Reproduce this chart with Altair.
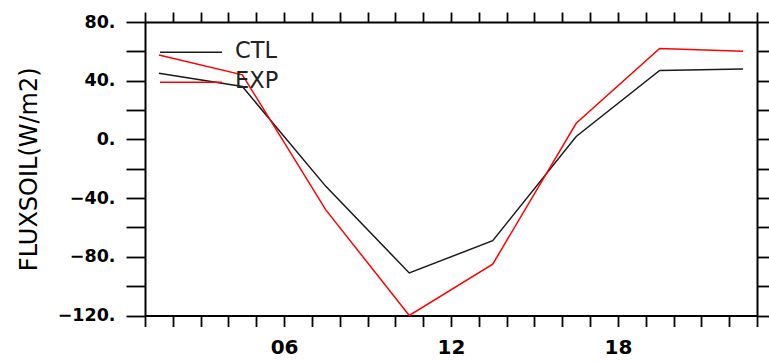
import altair as alt
import pandas as pd

# ---- data ----
hours = [1.5, 4.5, 7.5, 10.5, 13.5, 16.5, 19.5, 22.5]
ctl = [45, 36, -32, -91, -69, 2, 47, 48]
exp = [57.5, 44, -48, -120, -85, 11, 62, 60]
series = ["CTL", "EXP"]
colors = ["#1a1a1a", "#ff0000"]
x_ticks = list(range(1, 24))
x_labels = {6: "06", 12: "12", 18: "18"}
y_ticks = list(range(-120, 81, 20))
y_labels = [80, 40, 0, -40, -80, -120]

df = pd.DataFrame({
    "hour": hours * 2,
    "value": ctl + exp,
    "series": [series[0]] * len(hours) + [series[1]] * len(hours),
})

W, H = 612, 293.5
FONT = "DejaVu Sans"

x_label_expr = " : ".join(
    [f"datum.value == {k} ? '{v}'" for k, v in x_labels.items()]
) + " : ''"
y_label_expr = (
    "indexof([" + ",".join(str(v) for v in y_labels) + "], datum.value) >= 0 ? "
    "(datum.value < 0 ? '\u2212' + abs(datum.value) : '' + datum.value) + '.' : ''"
)

xscale = alt.Scale(domain=[1, 23], nice=False, zero=False)
yscale = alt.Scale(domain=[-120, 80], nice=False, zero=False)
cscale = alt.Scale(domain=series, range=colors)

common_axis = dict(grid=False, domainColor="black", tickColor="black",
                   domainWidth=2, tickWidth=1.8, labelColor="black")

x_bottom = alt.Axis(orient="bottom", values=x_ticks, labelExpr=x_label_expr,
                    tickSize=11, labelPadding=11, labelFont=FONT,
                    labelFontWeight="bold", labelFontSize=20, labelFlush=False,
                    labelOverlap=False, title=None, **common_axis)
y_left = alt.Axis(orient="left", values=y_ticks, labelExpr=y_label_expr,
                  tickSize=19, labelPadding=11, labelFont=FONT,
                  labelFontWeight="bold", labelFontSize=17.5, labelOverlap=False,
                  labelFlush=False, title="FLUXSOIL(W/m2)", titleFont=FONT,
                  titleFontSize=24, titleFontWeight="normal", titleColor="black",
                  titleAngle=270, titleX=-116, titleY=H / 2, titleAlign="center",
                  titleBaseline="middle", **common_axis)
x_top = alt.Axis(orient="top", values=x_ticks, labels=False, tickSize=10,
                 title=None, **common_axis)
y_right = alt.Axis(orient="right", values=y_ticks, labels=False, tickSize=19,
                   title=None, **common_axis)

lines = alt.Chart(df).mark_line(strokeWidth=1.5).encode(
    x=alt.X("hour:Q", scale=xscale, axis=x_bottom),
    y=alt.Y("value:Q", scale=yscale, axis=y_left),
    color=alt.Color("series:N", scale=cscale, legend=None),
    detail="series:N",
)

frame = alt.Chart(df).mark_line(opacity=0).encode(
    x=alt.X("hour:Q", scale=xscale, axis=x_top),
    y=alt.Y("value:Q", scale=yscale, axis=y_right),
    detail="series:N",
)

legend_layers = []
for i, name in enumerate(series):
    ly = 30.3 + 30 * i
    d = pd.DataFrame({"label": [name]})
    legend_layers.append(
        alt.Chart(d).mark_rule(color=colors[i], strokeWidth=1.5).encode(
            x=alt.value(15), x2=alt.value(77), y=alt.value(ly))
    )
    legend_layers.append(
        alt.Chart(d).mark_text(align="left", baseline="middle", font=FONT,
                               fontSize=22.5, color="#222222").encode(
            x=alt.value(90), y=alt.value(ly - 1.5), text="label:N")
    )

chart = alt.layer(lines, frame, *legend_layers).resolve_axis(
    x="independent", y="independent"
).properties(
    width=W, height=H,
    autosize=alt.AutoSizeParams(type="none"),
    padding={"left": 145, "top": 22, "right": 12, "bottom": 46.5},
    background="white",
).configure_view(stroke=None)

chart.save("out.html", embed_options={"renderer": "svg", "actions": False})
